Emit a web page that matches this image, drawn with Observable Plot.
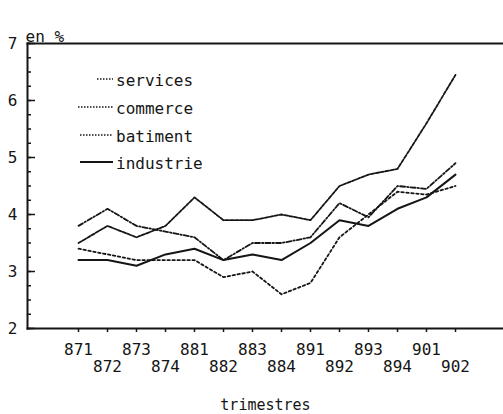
<!DOCTYPE html>
<html><head><meta charset="utf-8">
<script src="https://cdn.jsdelivr.net/npm/d3@7"></script>
<script src="https://cdn.jsdelivr.net/npm/@observablehq/plot@0.6"></script>
<style>body{margin:0;background:#fff} svg{display:block}</style>
</head><body><div id="chart"></div>
<script>
const quarters = ["871","872","873","874","881","882","883","884","891","892","893","894","901","902"];
const services  = [3.4,3.3,3.2,3.2,3.2,2.9,3.0,2.6,2.8,3.6,4.0,4.4,4.35,4.5];
const commerce  = [3.8,4.1,3.8,3.7,3.6,3.2,3.5,3.5,3.6,4.2,3.95,4.5,4.45,4.9];
const batiment  = [3.5,3.8,3.6,3.8,4.3,3.9,3.9,4.0,3.9,4.5,4.7,4.8,5.6,6.45];
const industrie = [3.2,3.2,3.1,3.3,3.4,3.2,3.3,3.2,3.5,3.9,3.8,4.1,4.3,4.7];
const seriesNames = ["services","commerce","batiment","industrie"];
const seriesValues = [services, commerce, batiment, industrie];
const seriesDash = ["2.5,2.5", "5,2,1.5,2", "3.5,1.5", null];
const yTicks = [2,3,4,5,6,7];
const yMinor = d3.range(2, 7.001, 0.25);
const oddQ = quarters.filter((d,i) => i % 2 === 0);
const evenQ = quarters.filter((d,i) => i % 2 === 1);
const yUnit = "en %";
const xTitle = "trimestres";

const font = "'DejaVu Sans Mono', monospace";
const ink = "#151515";

const lineMarks = seriesNames.map((name, k) =>
  Plot.line(quarters.map((q, i) => ({q, v: seriesValues[k][i]})), {
    x: "q", y: "v", stroke: ink, strokeWidth: k === 3 ? 2 : 1.8,
    strokeDasharray: seriesDash[k] || undefined
  })
);

const plot = Plot.plot({
  width: 503, height: 414,
  marginLeft: 27, marginRight: 0, marginTop: 43, marginBottom: 86,
  style: {fontFamily: font, fontSize: "16px", color: ink, background: "#fff"},
  x: {type: "point", domain: quarters, range: [57, 475], label: null},
  y: {domain: [2, 7], label: null},
  marks: [
    Plot.axisY(yMinor, {tickSize: 4, dx: 4, tickFormat: () => "", strokeWidth: 1.5, label: null}),
    Plot.axisY(yTicks, {tickSize: 8, dx: 8, tickFormat: () => "", strokeWidth: 1.5, label: null}),
    Plot.axisY(yTicks, {tickSize: 0, tickPadding: 10, fontSize: 16, tickFormat: d => String(d), label: null}),
    Plot.axisX(quarters, {tickSize: 4, tickFormat: () => "", strokeWidth: 1.5, label: null}),
    Plot.axisX(oddQ, {tickSize: 0, tickPadding: 15, fontSize: 16, label: null}),
    Plot.axisX(evenQ, {tickSize: 0, tickPadding: 32, fontSize: 16, label: null}),
    Plot.frame({anchor: "left", strokeWidth: 2, stroke: ink}),
    Plot.frame({anchor: "bottom", strokeWidth: 2, stroke: ink}),
    Plot.frame({anchor: "top", strokeWidth: 2, stroke: ink}),
    Plot.text([yUnit], {frameAnchor: "top-left", text: d => d, textAnchor: "start", lineAnchor: "bottom", dx: -2, dy: -2, fontSize: 16}),
    Plot.text([xTitle], {frameAnchor: "bottom", text: d => d, lineAnchor: "middle", dy: 77, fontSize: 15}),
    ...lineMarks
  ]
});
document.getElementById("chart").appendChild(plot);

// legend inside the plot area
const svg = d3.select(plot);
const lg = svg.append("g").attr("font-family", font).attr("font-size", 16)
  .attr("fill", ink).attr("text-anchor", "start");
const legendY = [81, 109, 137, 164];
const legendX1 = [97, 78, 80, 80];
seriesNames.forEach((name, k) => {
  const ln = lg.append("line").attr("x1", legendX1[k]).attr("x2", 113)
    .attr("y1", legendY[k] - 2).attr("y2", legendY[k] - 2)
    .attr("stroke", ink).attr("stroke-width", k === 3 ? 2 : 1.6);
  if (seriesDash[k]) ln.attr("stroke-dasharray", "1.5,1.5");
  lg.append("text").attr("x", 116).attr("y", legendY[k]).attr("dy", "0.32em").text(name);
});
</script>
</body></html>
